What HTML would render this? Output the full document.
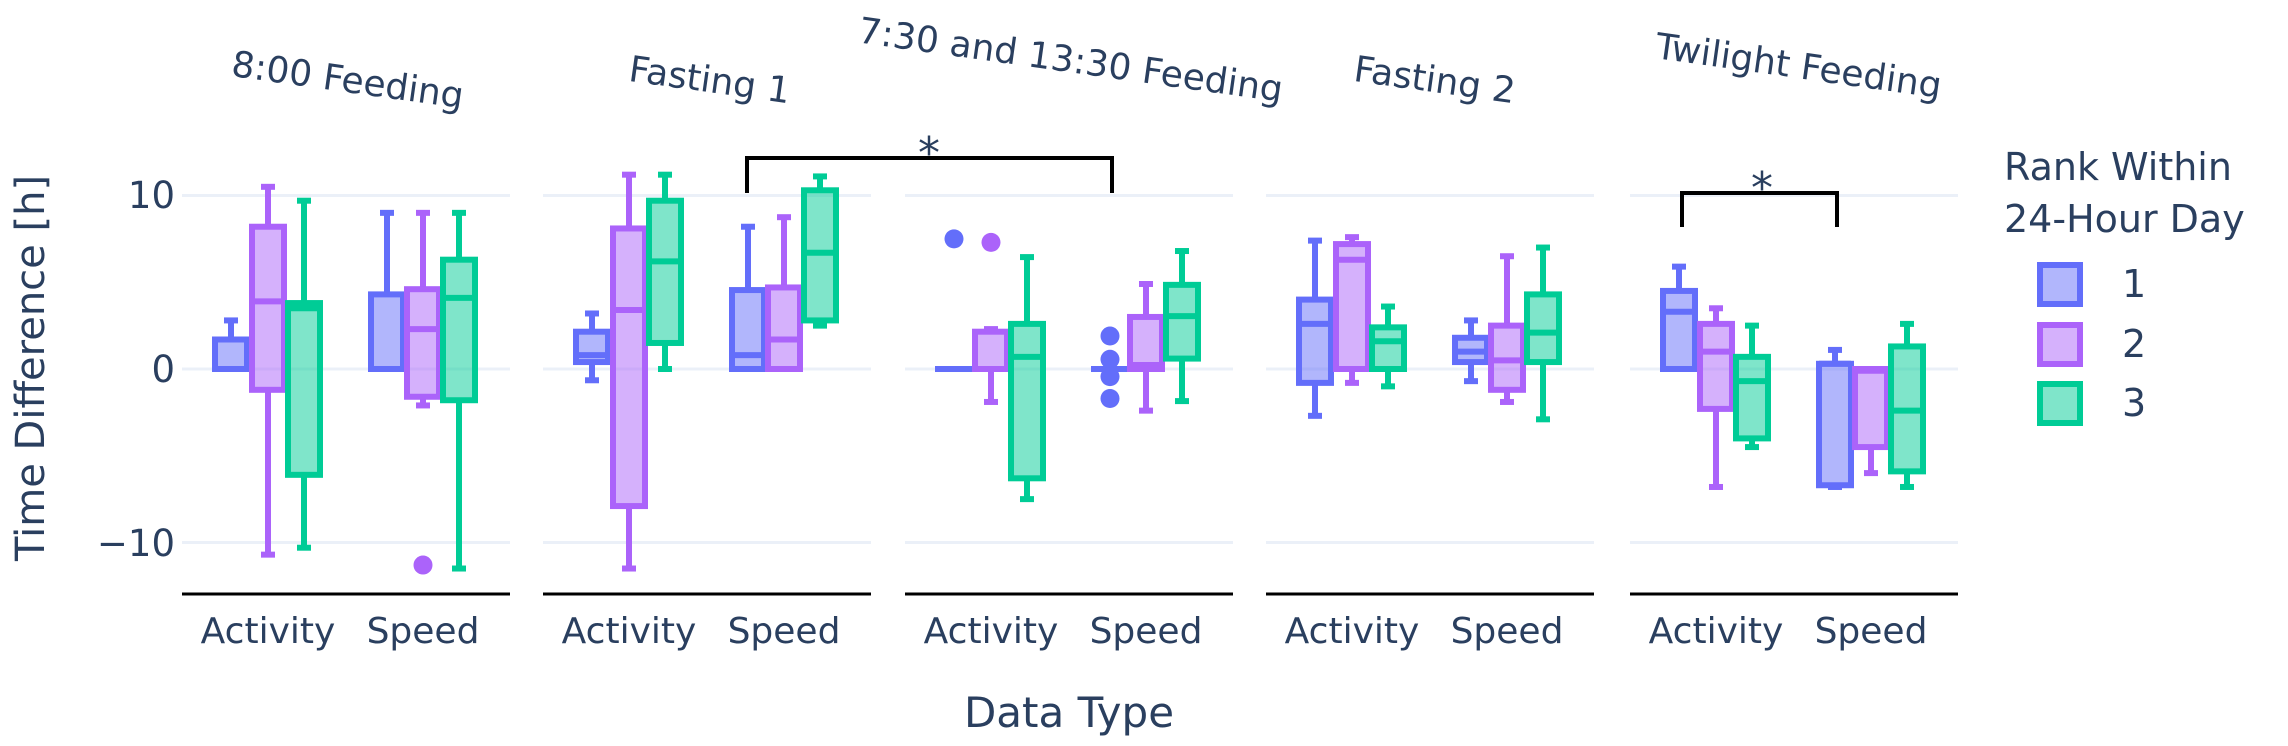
<!DOCTYPE html>
<html><head><meta charset="utf-8"><style>
html,body{margin:0;padding:0;background:#fff;}
svg{display:block;font-family:"DejaVu Sans","Liberation Sans",sans-serif;fill:#2a3f5f;}
</style></head><body>
<svg id="s" width="2288" height="746" viewBox="0 0 2288 746" xmlns="http://www.w3.org/2000/svg">
<g id="grid"></g>
<g id="boxes"></g>
<g font-size="37" fill="#2a3f5f" text-anchor="end">
<text x="175" y="208">10</text>
<text x="175" y="382">0</text>
<text x="175" y="556">−10</text>
</g>
<text transform="translate(44,368) rotate(-90)" text-anchor="middle" font-size="40" fill="#2a3f5f">Time Difference [h]</text>
<g font-size="36" fill="#2a3f5f" text-anchor="middle">
<text x="268" y="643">Activity</text><text x="423" y="643">Speed</text>
<text x="629" y="643">Activity</text><text x="784" y="643">Speed</text>
<text x="991" y="643">Activity</text><text x="1146" y="643">Speed</text>
<text x="1352" y="643">Activity</text><text x="1507" y="643">Speed</text>
<text x="1716" y="643">Activity</text><text x="1871" y="643">Speed</text>
</g>
<text x="1069" y="727" text-anchor="middle" font-size="42" fill="#2a3f5f">Data Type</text>
<g font-size="36" fill="#2a3f5f" text-anchor="middle">
<text transform="translate(346,92) rotate(8)">8:00 Feeding</text>
<text transform="translate(708,92) rotate(8)">Fasting 1</text>
<text transform="translate(1069,72) rotate(8)">7:30 and 13:30 Feeding</text>
<text transform="translate(1433,92) rotate(8)">Fasting 2</text>
<text transform="translate(1797,78) rotate(8)">Twilight Feeding</text>
</g>
<g font-size="38" fill="#2a3f5f">
<text x="2004" y="180">Rank Within</text>
<text x="2004" y="232">24-Hour Day</text>
<text x="2122" y="297">1</text>
<text x="2122" y="357">2</text>
<text x="2122" y="416">3</text>
</g>
<g stroke-width="6">
<rect x="2040" y="265" width="40" height="39" fill="rgba(99,110,250,0.5)" stroke="#636efa"/>
<rect x="2040" y="325" width="40" height="39" fill="rgba(171,99,250,0.5)" stroke="#ab63fa"/>
<rect x="2040" y="384" width="40" height="39" fill="rgba(0,204,150,0.5)" stroke="#00cc96"/>
</g>
<g fill="none" stroke="#000" stroke-width="4">
<polyline points="747,193 747,158 1112,158 1112,193"/>
<polyline points="1682,227 1682,193 1837,193 1837,227"/>
</g>
<g font-size="44" fill="#2a3f5f" text-anchor="middle">
<text x="929" y="168">*</text>
<text x="1762" y="203">*</text>
</g>
</svg>
<script>
var NS="http://www.w3.org/2000/svg";
function el(p,t,a){var e=document.createElementNS(NS,t);for(var k in a)e.setAttribute(k,a[k]);p.appendChild(e);return e;}
var grid=document.getElementById('grid'),bx=document.getElementById('boxes');
var P=[182,543,905,1266,1630],W=328;
function Y(v){return 369-17.35*v;}
P.forEach(function(p){
 [10,0,-10].forEach(function(v){el(grid,'line',{x1:p,x2:p+W,y1:Y(v),y2:Y(v),stroke:'#ebf0f8','stroke-width':3});});
 el(grid,'line',{x1:p,x2:p+W,y1:594,y2:594,stroke:'#000','stroke-width':3});
});
var C=[['#636efa','rgba(99,110,250,0.5)'],['#ab63fa','rgba(171,99,250,0.5)'],['#00cc96','rgba(0,204,150,0.5)']];
var OFF=[[49,86,122],[205,241,277]];
var D=[
 [[[0,0,0,1.7,2.8],[-10.7,-1.2,3.9,8.2,10.5],[-10.3,-6.1,3.5,3.8,9.7]],
  [[0,0,0,4.3,9.0],[-2.1,-1.6,2.3,4.6,9.0,[-11.3]],[-11.5,-1.8,4.1,6.3,9.0]]],
 [[[-0.65,0.4,0.8,2.15,3.2],[-11.5,-7.9,3.4,8.1,11.2],[0,1.5,6.2,9.7,11.2]],
  [[0,0,0.8,4.55,8.2],[0,0,1.7,4.7,8.75],[2.5,2.8,6.7,10.3,11.1]]],
 [[[0,0,0,0,0,[7.5]],[-1.9,0,0,2.15,2.3,[7.3]],[-7.5,-6.3,0.7,2.6,6.45]],
  [[0,0,0,0,0,[1.9,0.56,-0.44,-1.7]],[-2.4,0,0.23,3.0,4.9],[-1.85,0.6,3.05,4.85,6.8]]],
 [[[-2.7,-0.8,2.6,4.0,7.4],[-0.8,0,6.3,7.2,7.6],[-1.0,0,1.6,2.4,3.6]],
  [[-0.7,0.4,1.0,1.8,2.8],[-1.9,-1.2,0.5,2.5,6.5],[-2.9,0.4,2.1,4.3,7.0]]],
 [[[0,0,3.3,4.5,5.9],[-6.8,-2.3,1.0,2.6,3.5],[-4.5,-4.0,-0.7,0.7,2.5]],
  [[-6.8,-6.7,0.3,0.3,1.1],[-6.0,-4.5,-0.1,0,0],[-6.8,-5.9,-2.4,1.3,2.6]]]
];
var bw=32,cw=14;
D.forEach(function(panel,pi){panel.forEach(function(grp,gi){grp.forEach(function(b,ci){
 var cx=P[pi]+OFF[gi][ci],col=C[ci][0],fill=C[ci][1];
 var g=el(bx,'g',{stroke:col,'stroke-width':6,fill:'none'});
 el(g,'line',{x1:cx,x2:cx,y1:Y(b[4]),y2:Y(b[3])});
 el(g,'line',{x1:cx,x2:cx,y1:Y(b[1]),y2:Y(b[0])});
 el(g,'line',{x1:cx-cw/2,x2:cx+cw/2,y1:Y(b[4]),y2:Y(b[4])});
 el(g,'line',{x1:cx-cw/2,x2:cx+cw/2,y1:Y(b[0]),y2:Y(b[0])});
 var h=Y(b[1])-Y(b[3]);
 el(g,'rect',{x:cx-bw/2,y:Y(b[3]),width:bw,height:Math.max(h,0.01),fill:fill});
 el(g,'line',{x1:cx-bw/2,x2:cx+bw/2,y1:Y(b[2]),y2:Y(b[2])});
 (b[5]||[]).forEach(function(o){el(bx,'circle',{cx:cx,cy:Y(o),r:9.5,fill:col});});
});});});
</script>
</body></html>
